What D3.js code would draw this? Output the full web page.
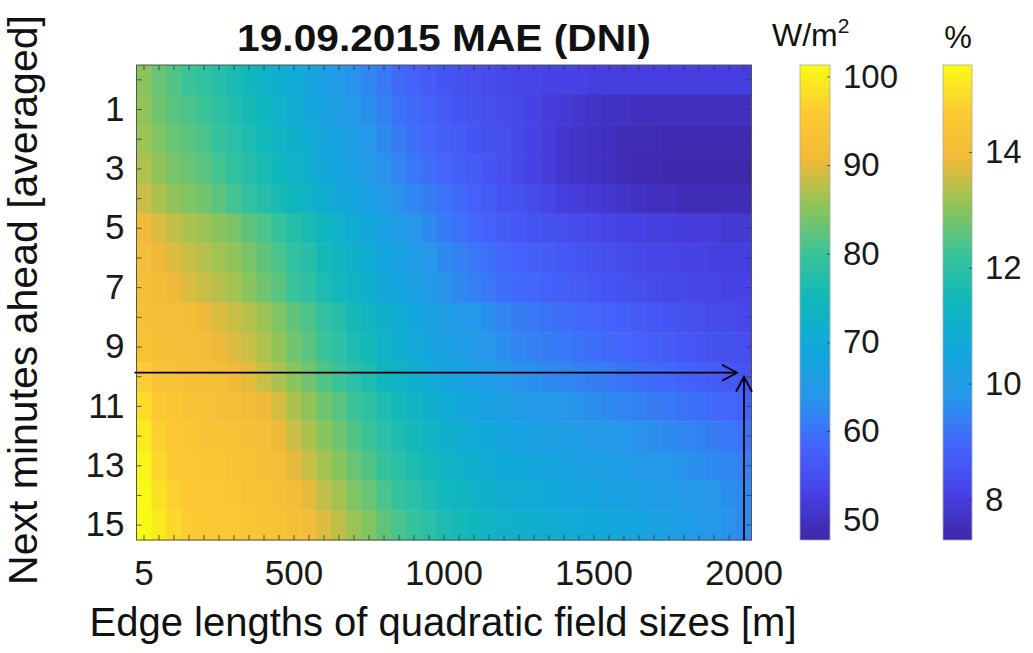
<!DOCTYPE html>
<html>
<head>
<meta charset="utf-8">
<script src="https://cdn.jsdelivr.net/npm/d3@7"></script>
<style>
  body { margin: 0; background: #fff; }
  svg { font-family: "Liberation Sans", Arial, sans-serif; }
</style>
</head>
<body>
<svg id="chart" width="1033" height="653"></svg>
<script>
// Edge length of the quadratic field (m), one column per size
const fieldSizes = [5, 50, 100, 150, 200, 250, 300, 350, 400, 450, 500, 550, 600, 650, 700, 750, 800, 850, 900, 950,
  1000, 1050, 1100, 1150, 1200, 1250, 1300, 1350, 1400, 1450, 1500, 1550, 1600, 1650, 1700, 1750, 1800, 1850, 1900, 1950, 2000];

// Forecast horizon (next minutes, averaged), one row per minute
const minutesAhead = [0, 1, 2, 3, 4, 5, 6, 7, 8, 9, 10, 11, 12, 13, 14, 15];

// MAE of DNI in W/m², rows follow minutesAhead, columns follow fieldSizes
const maeRows = [
  [85, 83, 81.5, 80, 79, 77.5, 76, 74.5, 73, 71.5, 70, 68.5, 66.5, 65, 63.5, 62, 60.5, 59, 58, 57, 56, 55.5, 55, 54.5, 54, 53.5, 53.5, 53, 53, 53, 52.5, 52.5, 52.5, 52.5, 52.5, 52.5, 52.5, 52.5, 52.5, 52.5, 52.5],
  [85.5, 83.5, 82, 81, 80, 78.5, 77, 75.5, 74, 72.5, 71, 69.5, 67.5, 66, 64.5, 63, 61.5, 60, 59, 58, 57, 56, 55.5, 55, 54.5, 54, 53, 52, 51.5, 51, 50.5, 50, 50, 49.5, 49.5, 49.5, 49.5, 49.5, 49.5, 49.5, 49.5],
  [86, 84.5, 83, 82, 81, 79.5, 78, 76.5, 75, 73.5, 72, 70.5, 68.5, 67, 65.5, 64, 62.5, 61, 59.5, 58.5, 57.5, 57, 56, 55.5, 55, 54, 53, 52, 51, 50.5, 50, 49.5, 49, 49, 49, 48.5, 48.5, 48.5, 48.5, 48.5, 48.5],
  [87, 85.5, 84, 83, 82, 80.5, 79, 77.5, 76, 74.5, 73, 71.5, 69.5, 68, 66.5, 65, 63.5, 62, 60.5, 59.5, 58.5, 57.5, 57, 56, 55, 54, 53, 52, 51, 50.5, 50, 49.5, 49, 48.5, 48.5, 48, 48, 48, 48, 48, 48],
  [88.5, 87, 85.5, 84.5, 83.5, 82, 80.5, 79, 77.5, 76, 74.5, 73, 71, 69.5, 68, 66.5, 65, 63.5, 62, 61, 60, 59, 58, 57, 56, 55.5, 54.5, 53.5, 52.5, 52, 51.5, 51, 50.5, 50, 49.5, 49.5, 49, 49, 49, 49, 49],
  [91, 89.5, 88, 87, 86, 85, 84, 82.5, 81, 79.5, 77.5, 76, 74, 72.5, 70.5, 69, 67, 65.5, 64, 62.5, 61, 60, 59, 58, 57, 56.5, 56, 55.5, 55, 54.5, 54, 53.5, 53, 53, 52.5, 52.5, 52, 52, 52, 51.5, 51.5],
  [92, 90.5, 89.5, 88.5, 87.5, 86.5, 85.5, 84, 82.5, 81, 79, 77.5, 75.5, 74, 72, 70.5, 68.5, 67, 65.5, 64, 62.5, 61.5, 60.5, 59.5, 58.5, 58, 57.5, 57, 56.5, 56, 55.5, 55, 54.5, 54, 53.5, 53.5, 53, 53, 52.5, 52.5, 52.5],
  [92.5, 91.5, 90.5, 89.5, 88.5, 87.5, 86.5, 85, 83.5, 82, 80, 78.5, 76.5, 75, 73, 71.5, 69.5, 68, 66.5, 65, 63.5, 62.5, 61.5, 60.5, 59.5, 59, 58.5, 58, 57.5, 57, 56.5, 56, 55.5, 55, 54.5, 54, 54, 53.5, 53.5, 53, 53],
  [93, 92.5, 92, 91.5, 90.5, 89.5, 88.5, 87.5, 86, 84.5, 82.5, 81, 79, 77.5, 75.5, 74, 72, 70.5, 69, 67.5, 66, 65, 64, 63, 62, 61, 60.5, 60, 59.5, 59, 58.5, 58, 57.5, 57, 56.5, 56, 55.5, 55, 54.5, 54.5, 54],
  [93.5, 93, 92.5, 92, 91.5, 90.5, 89.5, 88.5, 87, 85.5, 83.5, 82, 80, 78.5, 76.5, 75, 73, 71.5, 70, 68.5, 67, 66, 65, 64, 63, 62, 61.5, 61, 60.5, 60, 59.5, 59, 58.5, 58, 57.5, 57, 56.5, 56, 55.5, 55.5, 55],
  [96, 94, 93.5, 93, 92.5, 92, 91, 90, 88.5, 87, 85, 83.5, 81.5, 80, 78, 76.5, 74.5, 73, 71.5, 70, 68.5, 67.5, 66.5, 65.5, 64.5, 63.5, 63, 62.5, 62, 61.5, 61, 60.5, 60, 59.5, 59, 58.5, 58, 57.5, 57, 56.5, 56],
  [98, 95.5, 94.5, 94, 93.5, 93, 92.5, 91.5, 90.5, 89, 87, 85.5, 83.5, 82, 80, 78.5, 76.5, 75, 73.5, 72, 70.5, 69.5, 68.5, 67.5, 66.5, 65.5, 65, 64.5, 64, 63.5, 63, 62.5, 62, 61.5, 61, 60.5, 60, 59.5, 59, 58.5, 58],
  [99.5, 96.5, 95, 94.5, 94, 94, 93.5, 93, 92, 90.5, 88.5, 87, 85, 83.5, 81.5, 80, 78, 76.5, 75, 73.5, 72, 71, 70, 69, 68, 67.5, 67, 66.5, 66, 65.5, 65, 64.5, 64, 63.5, 63, 62.5, 62, 61.5, 61, 60.5, 60],
  [100.5, 97.5, 95.5, 95, 94.5, 94.5, 94, 93.5, 93, 92, 90, 88.5, 86.5, 85, 83, 81.5, 79.5, 78, 76.5, 75, 73.5, 72.5, 71.5, 70.5, 69.5, 69, 68.5, 68, 67.5, 67, 66.5, 66, 65.5, 65, 64.5, 64, 63.5, 63, 62.5, 62, 61.5],
  [101, 98.5, 96.5, 95.5, 95, 95, 94.5, 94, 93.5, 93, 91.5, 90, 88, 86.5, 84.5, 83, 81, 79.5, 78, 76.5, 75, 74, 73, 72, 71, 70.5, 70, 69.5, 69, 68.5, 68, 67.5, 67, 66.5, 66, 65.5, 65, 64.5, 64, 63, 62.5],
  [101.5, 99.5, 97.5, 96, 95.5, 95, 95, 94.5, 94, 93.5, 92.5, 91.5, 89.5, 88, 86, 84.5, 82.5, 81, 79.5, 78, 76.5, 75.5, 74.5, 73.5, 72.5, 72, 71.5, 71, 70.5, 70, 69.5, 69, 68.5, 68, 67, 66.5, 66, 65, 64.5, 63.5, 62.5]
];

// Tick labels
const xTickLabels = [5, 500, 1000, 1500, 2000];
const yTickLabels = [1, 3, 5, 7, 9, 11, 13, 15];
const absTicks = [50, 60, 70, 80, 90, 100];
const relTicks = [8, 10, 12, 14];

// Colour limits of the two colour bars (absolute and relative MAE)
const absLimits = [47.7, 101.3];
const relLimits = [7.3, 15.5];

// Highlighted cell: largest field, 10 minutes ahead
const markedSize = 2000;
const markedMinute = 10;

// Parula-like colour ramp
const parulaStops = ["#3e26a8", "#4742e6", "#4465fd", "#2796eb", "#12a8dc", "#0fb7bd",
  "#38c39a", "#8cc45a", "#f0ba3a", "#fdca32", "#f9fb15"];
const parula = d3.scaleLinear()
  .domain(d3.range(parulaStops.length).map(i => i / (parulaStops.length - 1)))
  .range(parulaStops)
  .interpolate(d3.interpolateRgb)
  .clamp(true);

const svg = d3.select("#chart");
const plot = { left: 136.5, right: 751.5, top: 65, bottom: 540 };

const x = d3.scaleBand().domain(fieldSizes).range([plot.left, plot.right]);
const y = d3.scaleBand().domain(minutesAhead).range([plot.top, plot.bottom]);
const valueToT = d3.scaleLinear().domain(absLimits).range([0, 1]);
const fill = v => parula(valueToT(v));

// Heat-map cells
const cells = [];
maeRows.forEach((row, r) => row.forEach((v, c) => cells.push({ size: fieldSizes[c], minute: minutesAhead[r], v })));
svg.append("g")
  .selectAll("rect")
  .data(cells)
  .join("rect")
  .attr("x", d => x(d.size))
  .attr("y", d => y(d.minute))
  .attr("width", x.bandwidth() + 0.5)
  .attr("height", y.bandwidth() + 0.5)
  .attr("fill", d => fill(d.v));

const axisFont = 35;
const barFont = 33;
const fontFamily = "'Liberation Sans', Arial, sans-serif";

// Axes: ticks inside on all four sides
const axisColor = "#333";
const tickLen = 5;
const bottomAxis = d3.axisBottom(x).tickSizeInner(-tickLen).tickSizeOuter(0)
  .tickFormat(d => xTickLabels.includes(d) ? d : "").tickPadding(20);
const gx = svg.append("g").attr("transform", `translate(0,${plot.bottom})`).call(bottomAxis);
const topAxis = d3.axisTop(x).tickSizeInner(-tickLen).tickSizeOuter(0).tickFormat("");
const gxt = svg.append("g").attr("transform", `translate(0,${plot.top})`).call(topAxis);
const leftAxis = d3.axisLeft(y).tickSizeInner(-tickLen).tickSizeOuter(0)
  .tickFormat(d => yTickLabels.includes(d) ? d : "").tickPadding(12);
const gy = svg.append("g").attr("transform", `translate(${plot.left},0)`).call(leftAxis);
const rightAxis = d3.axisRight(y).tickSizeInner(-tickLen).tickSizeOuter(0).tickFormat("");
const gyr = svg.append("g").attr("transform", `translate(${plot.right},0)`).call(rightAxis);
[gx, gxt, gy, gyr].forEach(g => {
  g.select(".domain").remove();
  g.selectAll("line").attr("stroke", axisColor).attr("stroke-width", 0.8);
  g.selectAll("text").attr("fill", "#1a1a1a").style("font-size", axisFont + "px")
    .style("font-family", fontFamily);
});
gx.selectAll("text").attr("dy", "0.71em");

svg.append("rect")
  .attr("x", plot.left).attr("y", plot.top)
  .attr("width", plot.right - plot.left).attr("height", plot.bottom - plot.top)
  .attr("fill", "none").attr("stroke", "#555").attr("stroke-width", 1);

// Title and axis titles
svg.append("text")
  .attr("transform", "translate(444,51) scale(1.1,1)")
  .attr("text-anchor", "middle")
  .style("font-size", "37px").style("font-weight", "bold").attr("fill", "#111")
  .text("19.09.2015 MAE (DNI)");

svg.append("text")
  .attr("x", 443).attr("y", 636)
  .attr("text-anchor", "middle")
  .style("font-size", "40px").attr("fill", "#111")
  .text("Edge lengths of quadratic field sizes [m]");

svg.append("text")
  .attr("transform", "translate(37,300) rotate(-90)")
  .attr("text-anchor", "middle")
  .style("font-size", "41px").attr("fill", "#111")
  .text("Next minutes ahead [averaged]");

// Marker arrows pointing at the highlighted cell
const arrowColor = "#000";
const tipX = x(markedSize) + x.bandwidth() / 2;
const tipY = y(markedMinute) + y.bandwidth() / 2;
const head = 15, half = 8;
const arrows = svg.append("g").attr("stroke", arrowColor).attr("stroke-width", 1.8).attr("fill", "none");
const hY = tipY - 4, hX = tipX - 7;
arrows.append("line").attr("x1", plot.left - 2).attr("y1", hY).attr("x2", hX).attr("y2", hY);
arrows.append("path").attr("d", `M${hX - head},${hY - half}L${hX},${hY}L${hX - head},${hY + half}`);
arrows.append("line").attr("x1", tipX).attr("y1", plot.bottom).attr("x2", tipX).attr("y2", tipY);
arrows.append("path").attr("d", `M${tipX - half},${tipY + head}L${tipX},${tipY}L${tipX + half},${tipY + head}`);

// Colour bars
const defs = svg.append("defs");
const grad = defs.append("linearGradient").attr("id", "parulaGrad")
  .attr("x1", 0).attr("y1", 1).attr("x2", 0).attr("y2", 0);
d3.range(0, 1.0001, 0.02).forEach(t => grad.append("stop").attr("offset", t).attr("stop-color", parula(t)));

function colorBar(x0, width, limits, ticks) {
  const s = d3.scaleLinear().domain(limits).range([plot.bottom, plot.top]);
  const g = svg.append("g");
  g.append("rect").attr("x", x0).attr("y", plot.top).attr("width", width)
    .attr("height", plot.bottom - plot.top).attr("fill", "url(#parulaGrad)")
    .attr("stroke", "#aaa").attr("stroke-width", 0.8);
  const ax = d3.axisRight(s).tickValues(ticks).tickSizeInner(-3).tickSizeOuter(0).tickPadding(13);
  const ga = g.append("g").attr("transform", `translate(${x0 + width},0)`).call(ax);
  ga.select(".domain").remove();
  ga.selectAll("line").attr("stroke", "#333").attr("stroke-width", 0.8);
  ga.selectAll("text").attr("fill", "#1a1a1a").style("font-size", barFont + "px")
    .style("font-family", fontFamily);
  return g;
}
colorBar(800, 30, absLimits, absTicks);
colorBar(943, 29, relLimits, relTicks);

const unitW = svg.append("text").attr("x", 772).attr("y", 46).style("font-size", "32px").attr("fill", "#111");
unitW.append("tspan").text("W/m");
unitW.append("tspan").attr("dy", -13).style("font-size", "21px").text("2");
svg.append("text").attr("x", 958).attr("y", 48).attr("text-anchor", "middle")
  .style("font-size", "31px").attr("fill", "#111").text("%");
</script>
</body>
</html>
